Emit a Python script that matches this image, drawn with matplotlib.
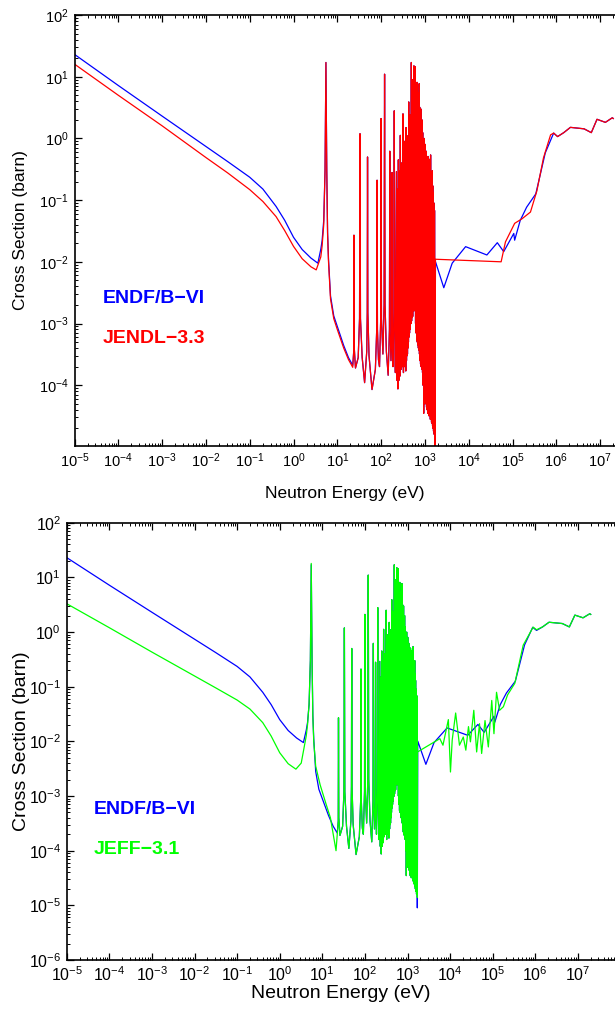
import numpy as np
import matplotlib.pyplot as plt
from matplotlib.ticker import LogLocator, NullFormatter, FixedLocator, LogFormatterSciNotation

plt.rcParams['font.family'] = ['Liberation Sans', 'DejaVu Sans']
plt.rcParams['mathtext.fontset'] = 'custom'
plt.rcParams['mathtext.rm'] = 'Liberation Sans'
plt.rcParams['axes.unicode_minus'] = True

# --- low energy part (1/v region + 5.5 eV resonance), per library ---
endf_low_E = [1e-5, 1e-4, 1e-3, 1e-2, 0.0316, 0.1, 0.2, 0.4, 0.63, 1.0, 1.58, 2.5, 3.6,
              4.2, 4.5, 4.9, 5.25, 5.5, 5.75, 6.0, 6.3, 7.0, 8.3, 10, 14, 18, 22.5]
endf_low_xs = [23, 7.2, 2.3, 0.74, 0.42, 0.235, 0.151, 0.079, 0.047, 0.025, 0.0158, 0.0115, 0.0095,
               0.016, 0.022, 0.047, 0.3, 17, 0.3, 0.03, 0.011, 0.0028, 0.00133, 9e-4, 4.4e-4, 2.8e-4, 2.1e-4]

jendl_low_E = [1e-5, 1e-4, 1e-3, 1e-2, 0.0316, 0.1, 0.2, 0.4, 0.63, 1.0, 1.58, 2.5, 3.3,
               4.2, 4.5, 4.9, 5.25, 5.5, 5.75, 6.0, 6.3, 7.0, 8.3, 10, 14, 18, 22.5]
jendl_low_xs = [16, 5.0, 1.6, 0.49, 0.275, 0.148, 0.095, 0.054, 0.032, 0.0178, 0.0112, 0.0083, 0.0074,
                0.012, 0.018, 0.04, 0.3, 17, 0.3, 0.028, 0.01, 0.0025, 0.0012, 8e-4, 4.0e-4, 2.6e-4, 1.95e-4]

jeff_low_E = [1e-5, 1e-4, 1e-3, 1e-2, 0.0316, 0.1, 0.2, 0.4, 0.63, 1.0, 1.58, 2.4, 3.2,
              4.2, 4.5, 4.9, 5.25, 5.5, 5.75, 6.0, 6.3, 7.0, 8.9, 12, 15.5, 21]
jeff_low_xs = [3.3, 1.2, 0.43, 0.157, 0.095, 0.057, 0.039, 0.022, 0.0125, 0.0062, 0.0039, 0.0031, 0.004,
               0.0126, 0.02, 0.05, 0.3, 18, 0.3, 0.028, 0.01, 0.0035, 0.0016, 7.5e-4, 4e-4, 1.0e-4]

# --- resolved resonances: peaks ---
res_E = [24, 33, 49, 81, 100, 120, 158, 178, 200,
         224, 236, 248, 262, 275, 292, 300, 316, 332, 340,
         350, 360, 372, 388, 395, 405, 415, 427, 435, 442,
         450, 458, 466, 474, 482, 490, 504, 519, 534, 548,
         562, 580, 603, 620, 640, 661, 680, 700, 720, 741,
         762, 785, 808, 830, 855, 875, 891, 920, 955, 985,
         1015, 1045, 1075, 1105, 1140, 1175, 1210, 1245, 1280, 1315,
         1349, 1395, 1440, 1479, 1515, 1549, 1600, 1660]
res_xs = [0.027, 1.19, 0.50, 0.21, 2.1, 11, 0.62, 0.28, 2.8,
          0.29, 0.15, 0.45, 0.3, 1.12, 0.40, 0.25, 2.5, 0.55, 0.35,
          0.9, 0.5, 1.5, 0.75, 0.6, 1.1, 0.5, 3.9, 0.9, 1.4,
          0.7, 2.4, 0.9, 1.1, 2.0, 17, 5.0, 9.0, 3.5, 7.0,
          15, 5.5, 14.5, 4.5, 6.5, 8.1, 3.8, 5.5, 2.8, 7.7,
          3.2, 2.2, 3.0, 1.6, 2.0, 1.1, 1.24, 0.8, 1.0, 0.65,
          0.8, 0.5, 0.62, 0.45, 0.4, 0.51, 0.38, 0.46, 0.33, 0.42,
          0.54, 0.24, 0.28, 0.30, 0.17, 0.13, 0.09, 0.068]

# --- valleys and resonance shoulders between the peaks ---
valley_E = [23.7, 24.4, 26, 30, 32.2, 33.8, 37, 42, 47, 48.3, 49.8, 53, 62, 74, 79.5, 82.5, 87, 92,
            98, 102, 110, 117, 123, 132, 145, 155, 161, 168, 175, 181, 187, 196, 204, 212,
            230, 242, 255, 268, 284, 297, 308, 324, 336, 345,
            355, 366, 380, 391, 400, 410, 421, 431, 438, 446,
            454, 462, 470, 478, 486, 497, 511, 526, 541, 555,
            571, 592, 612, 630, 650, 670, 690, 710, 730, 752,
            773, 796, 819, 842, 865, 883, 905, 938, 970, 1000,
            1030, 1060, 1090, 1122, 1158, 1192, 1228, 1262, 1298, 1332,
            1372, 1418, 1460, 1497, 1532, 1575, 1630]
valley_xs = [3.5e-4, 4e-4, 1.9e-4, 2.8e-4, 1.2e-3, 1.2e-3, 2.8e-4, 1.1e-4, 3.5e-4, 1.5e-3, 1.5e-3, 3e-4,
             8.5e-5, 1.8e-4, 8e-4, 8e-4, 2.6e-4, 2.0e-4,
             1.2e-3, 1.2e-3, 3.2e-4, 2e-3, 2e-3, 3.5e-4, 1.45e-4, 8e-4, 8e-4, 2.5e-4, 6e-4, 6e-4,
             2.0e-4, 1.5e-3, 1.5e-3, 1.6e-4,
             1.2e-4, 8.7e-5, 1.2e-4, 1.4e-4, 1.8e-4, 2e-4, 2e-4, 1.6e-4, 2e-4, 2.5e-4,
             2e-4, 1.7e-4, 2.5e-4, 3e-4, 3.2e-4, 4e-4, 5e-4, 6e-4, 6.3e-4, 7e-4,
             8e-4, 9e-4, 1e-3, 1e-3, 1e-3, 1.1e-3, 1.25e-3, 1.3e-3, 1.6e-3, 2e-3,
             2.3e-3, 1.6e-3, 1e-3, 7e-4, 5.4e-4, 5e-4, 4.5e-4, 4e-4, 3.7e-4, 3.2e-4,
             2.5e-4, 2.2e-4, 2e-4, 1.9e-4, 1.8e-4, 1.6e-4, 1e-4, 3.5e-5, 5e-5, 6.3e-5,
             5e-5, 5.6e-5, 4.4e-5, 4e-5, 3.5e-5, 3.5e-5, 3.2e-5, 3.5e-5, 3.2e-5, 2.8e-5,
             3.1e-5, 2.5e-5, 2.4e-5, 2.2e-5, 2e-5, 1.8e-5, 1.6e-5]

# last valley at the end of the resolved range
end_E = 1700
endf_end_xs = 9e-6
jendl_end_xs = 1e-5
jeff_end_xs = 1.4e-5

# --- unresolved / fast region ---
endf_high_E = [1740, 2.7e3, 4.2e3, 8.5e3, 2.6e4, 4.5e4, 6.3e4, 1.07e5, 1.12e5, 1.5e5, 2.1e5, 3.4e5,
               5.6e5, 8.7e5, 1.07e6, 1.48e6, 2.1e6, 4.3e6, 6.3e6, 8.5e6, 1.32e7, 1.9e7, 2.0e7]
endf_high_xs = [0.0101, 0.0038, 0.0095, 0.0176, 0.0129, 0.0204, 0.0146, 0.0288, 0.0224, 0.0468, 0.0767, 0.126,
                0.582, 1.22, 1.07, 1.24, 1.51, 1.43, 1.24, 2.04, 1.82, 2.16, 2.1]

jendl_high_E = [1740, 5.5e4, 6.9e4, 1.12e5, 1.66e5, 2.57e5, 3.6e5, 5.1e5, 7.4e5,
                8.7e5, 1.07e6, 1.48e6, 2.1e6, 4.3e6, 6.3e6, 8.5e6, 1.32e7, 1.9e7, 2.0e7]
jendl_high_xs = [0.011, 0.010, 0.021, 0.042, 0.050, 0.064, 0.141, 0.484, 1.14,
                 1.22, 1.07, 1.24, 1.51, 1.43, 1.24, 2.04, 1.82, 2.16, 2.1]

jeff_high_E = [1720, 5.75e3, 6.8e3, 9.1e3, 1.02e4, 1.12e4, 1.35e4, 1.66e4, 2.04e4, 2.34e4, 2.7e4, 3.0e4,
               3.6e4, 4.2e4, 4.9e4, 5.5e4, 6.6e4, 7.9e4, 9.5e4, 1.07e5, 1.23e5, 1.45e5, 1.78e5, 2.24e5,
               3.3e5, 5.2e5, 8.9e5, 1.07e6, 1.48e6, 2.1e6, 4.3e6, 6.3e6, 8.5e6, 1.32e7, 1.9e7, 2.0e7]
jeff_high_xs = [0.0064, 0.0112, 0.0085, 0.025, 0.00275, 0.0105, 0.033, 0.0085, 0.012, 0.0069, 0.0186, 0.0098,
                0.037, 0.0064, 0.021, 0.006, 0.024, 0.0079, 0.056, 0.0138, 0.079, 0.037, 0.043, 0.071,
                0.115, 0.575, 1.23, 1.1, 1.24, 1.51, 1.43, 1.24, 2.04, 1.82, 2.16, 2.1]

# labelled decades on each axis
x_decades = [-5, -4, -3, -2, -1, 0, 1, 2, 3, 4, 5, 6, 7]
y_decades_top = [-4, -3, -2, -1, 0, 1, 2]
y_decades_bottom = [-6, -5, -4, -3, -2, -1, 0, 1, 2]


def build(low_E, low_xs, end_xs, high_E, high_xs):
    # merge all points of one evaluation and sort them by energy
    E = np.concatenate([low_E, res_E, valley_E, [end_E], high_E])
    xs = np.concatenate([low_xs, res_xs, valley_xs, [end_xs], high_xs])
    order = np.argsort(E, kind='stable')
    return E[order], xs[order]


endf = build(endf_low_E, endf_low_xs, endf_end_xs, endf_high_E, endf_high_xs)
jendl = build(jendl_low_E, jendl_low_xs, jendl_end_xs, jendl_high_E, jendl_high_xs)
jeff = build(jeff_low_E, jeff_low_xs, jeff_end_xs, jeff_high_E, jeff_high_xs)

W, H = 615, 1011
fig = plt.figure(figsize=(W / 100, H / 100), dpi=100)


def setup(ax, xmax, ymin, ydec, ticksize, labelsize):
    ax.set_xscale('log')
    ax.set_yscale('log')
    ax.set_xlim(1e-5, xmax)
    ax.set_ylim(ymin, 1e2)
    for a, dec in ((ax.xaxis, x_decades), (ax.yaxis, ydec)):
        a.set_major_locator(FixedLocator([10.0 ** d for d in dec]))
        a.set_major_formatter(LogFormatterSciNotation())
        a.set_minor_locator(LogLocator(base=10, subs=np.arange(2, 10), numticks=400))
        a.set_minor_formatter(NullFormatter())
    ax.tick_params(which='both', direction='in', top=True, right=False, labelsize=ticksize, pad=4)
    ax.tick_params(which='major', length=5, width=0.9)
    ax.tick_params(which='minor', length=2.5, width=0.7)
    ax.spines['right'].set_visible(False)
    for s in ('left', 'top', 'bottom'):
        ax.spines[s].set_linewidth(1.2)
    ax.set_xlabel('Neutron Energy (eV)', fontsize=labelsize)
    ax.set_ylabel('Cross Section (barn)', fontsize=labelsize)
    ax.xaxis.label.set_va('center')
    ax.yaxis.label.set_va('center')


# top panel: ENDF/B-VI vs JENDL-3.3
l1, t1, b1 = 74.5, 15, 446
ax1 = fig.add_axes([l1 / W, 1 - b1 / H, (W - l1) / W, (b1 - t1) / H])
setup(ax1, 10 ** (-5 + (W - l1) / 43.8), 10 ** (2 - (b1 - t1) / 61.7), y_decades_top, 10.5, 12.5)
ax1.plot(endf[0], endf[1], color='#0000ff', lw=0.9)
ax1.plot(jendl[0], jendl[1], color='#ff0000', lw=0.9)
ax1.xaxis.set_label_coords(0.5, (b1 - 493) / (b1 - t1))
ax1.yaxis.set_label_coords((21 - l1) / (W - l1), 0.5)
ax1.text(0.053, (b1 - 298) / (b1 - t1), 'ENDF/B\u2212VI', color='#0000ff', fontsize=14,
         fontweight='bold', transform=ax1.transAxes, va='center')
ax1.text(0.053, (b1 - 338) / (b1 - t1), 'JENDL\u22123.3', color='#ff0000', fontsize=14,
         fontweight='bold', transform=ax1.transAxes, va='center')

# bottom panel: ENDF/B-VI vs JEFF-3.1
l2, t2, b2 = 66.7, 522.7, 960
ax2 = fig.add_axes([l2 / W, 1 - b2 / H, (W - l2) / W, (b2 - t2) / H])
setup(ax2, 10 ** (-5 + (W - l2) / 42.6), 1e-6, y_decades_bottom, 11.5, 14)
ax2.plot(endf[0], endf[1], color='#0000ff', lw=0.9)
ax2.plot(jeff[0], jeff[1], color='#00ff00', lw=0.9)
ax2.xaxis.set_label_coords(0.5, (b2 - 993) / (b2 - t2))
ax2.yaxis.set_label_coords((22 - l2) / (W - l2), 0.5)
ax2.text(0.05, (b2 - 810) / (b2 - t2), 'ENDF/B\u2212VI', color='#0000ff', fontsize=14,
         fontweight='bold', transform=ax2.transAxes, va='center')
ax2.text(0.05, (b2 - 850) / (b2 - t2), 'JEFF\u22123.1', color='#00ff00', fontsize=14,
         fontweight='bold', transform=ax2.transAxes, va='center')

fig.savefig('out.png', dpi=100)
